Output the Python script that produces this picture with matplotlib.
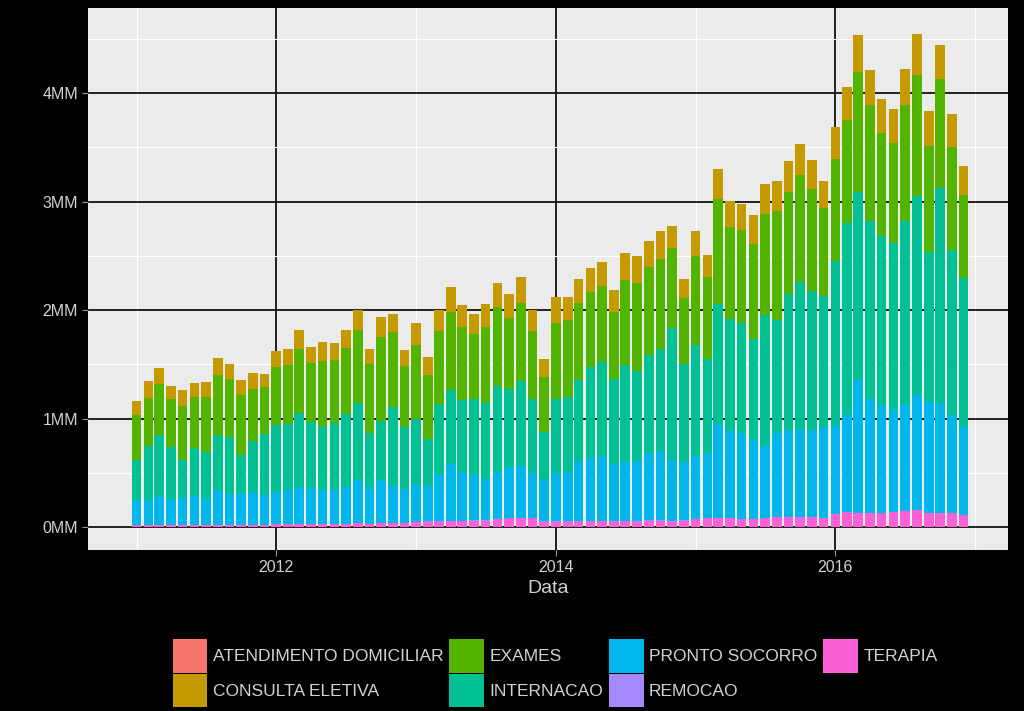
import numpy as np
import pandas as pd
import matplotlib
matplotlib.use("Agg")
import matplotlib.pyplot as plt
import matplotlib.dates as mdates
from matplotlib.ticker import FuncFormatter, MultipleLocator

plt.rcParams['font.family'] = ['Liberation Sans', 'DejaVu Sans']

# monthly totals, in millions
meses = pd.date_range("2011-01-01", "2016-12-01", freq="MS")

terapia = [.015, .015, .02, .02, .015, .02, .015, .02, .02, .02, .02, .02,
           .025, .025, .025, .03, .03, .03, .03, .04, .03, .04, .04, .04,
           .045, .05, .05, .055, .055, .06, .06, .07, .08, .08, .08, .05,
           .05, .05, .05, .05, .055, .05, .055, .05, .06, .06, .05, .06,
           .07, .08, .08, .08, .075, .07, .08, .09, .09, .09, .09, .08,
           .12, .14, .13, .13, .13, .14, .15, .155, .13, .13, .13, .11]

remocao = [.001, .001, .001, .001, .001, .001, .001, .001, .001, .001, .001, .001,
           .001, .001, .001, .001, .001, .001, .001, .001, .001, .001, .001, .001,
           .001, .001, .001, .001, .001, .001, .001, .001, .001, .001, .001, .001,
           .001, .001, .001, .001, .001, .001, .001, .001, .001, .001, .001, .001,
           .0015, .0015, .0015, .0015, .0015, .0015, .0015, .0015, .0015, .0015, .0015, .0015,
           .0015, .0015, .0015, .0015, .0015, .0015, .0015, .0015, .0015, .0015, .0015, .0015]

pronto_socorro = [.222, .232, .266, .24, .255, .266, .238, .316, .283, .28, .306, .27,
                  .294, .311, .34, .329, .306, .306, .339, .388, .339, .388, .339, .312,
                  .35, .329, .434, .528, .455, .424, .381, .44, .47, .486, .42, .385,
                  .444, .46, .556, .582, .603, .526, .544, .559, .621, .638, .566, .539,
                  .585, .601, .865, .815, .787, .727, .661, .779, .805, .815, .805, .838,
                  .808, .894, 1.22, 1.045, .989, .946, .983, 1.06, 1.022, 1.012, .897, .808]

internacao = [.379, .497, .560, .474, .346, .438, .435, .510, .523, .362, .464, .563,
              .616, .609, .681, .612, .586, .619, .675, .714, .494, .550, .724, .570,
              .599, .428, .649, .681, .658, .691, .701, .793, .724, .780, .675, .444,
              .681, .688, .751, .840, .863, .787, .889, .830, .905, .938, 1.218, .905,
              1.024, .866, 1.113, 1.020, 1.014, .938, 1.208, 1.040, 1.251, 1.350, 1.277, 1.212,
              1.524, 1.765, 1.735, 1.643, 1.564, 1.528, 1.686, 1.837, 1.383, 1.985, 1.521, 1.376]

exames = [.411, .441, .467, .441, .494, .477, .510, .550, .537, .550, .484, .435,
          .540, .546, .593, .540, .609, .583, .609, .675, .642, .774, .691, .560,
          .685, .589, .668, .721, .675, .606, .701, .728, .652, .718, .629, .507,
          .708, .708, .708, .691, .698, .619, .790, .807, .807, .833, .734, .602,
          .813, .754, .961, .849, .856, .876, .938, 1.001, .938, .984, .945, .807,
          .938, .955, 1.103, 1.073, .951, .925, 1.073, 1.113, .971, 1.004, .955, .764]

consulta_eletiva = [.132, .155, .148, .128, .151, .125, .135, .158, .138, .142, .145, .122,
                    .148, .145, .178, .148, .174, .155, .165, .184, .132, .181, .165, .148,
                    .201, .171, .201, .230, .201, .178, .207, .217, .217, .240, .191, .158,
                    .237, .214, .221, .221, .224, .198, .247, .247, .240, .257, .207, .178,
                    .234, .207, .277, .237, .247, .260, .277, .280, .286, .290, .263, .253,
                    .293, .296, .346, .319, .306, .313, .329, .375, .326, .309, .306, .267]

# home care is tiny next to the rest (a few hundred per month)
atendimento_domiciliar = [.0002, .0002, .0002, .0002, .0002, .0002, .0002, .0002, .0002, .0002, .0002, .0002,
                          .0002, .0002, .0002, .0002, .0002, .0002, .0002, .0002, .0002, .0002, .0002, .0002,
                          .0003, .0003, .0003, .0003, .0003, .0003, .0003, .0003, .0003, .0003, .0003, .0003,
                          .0003, .0003, .0003, .0003, .0003, .0003, .0003, .0003, .0003, .0003, .0003, .0003,
                          .0004, .0004, .0004, .0004, .0004, .0004, .0004, .0004, .0004, .0004, .0004, .0004,
                          .0004, .0004, .0004, .0004, .0004, .0004, .0004, .0004, .0004, .0004, .0004, .0004]

categorias = ["ATENDIMENTO DOMICILIAR", "CONSULTA ELETIVA", "EXAMES", "INTERNACAO",
              "PRONTO SOCORRO", "REMOCAO", "TERAPIA"]
cores = ["#F8766D", "#C49A00", "#53B400", "#00C094", "#00B6EB", "#A58AFF", "#FB61D7"]

series = {
    "ATENDIMENTO DOMICILIAR": atendimento_domiciliar,
    "CONSULTA ELETIVA": consulta_eletiva,
    "EXAMES": exames,
    "INTERNACAO": internacao,
    "PRONTO SOCORRO": pronto_socorro,
    "REMOCAO": remocao,
    "TERAPIA": terapia,
}

texto = "#D2D2D2"

fig = plt.figure(figsize=(10.24, 7.11), dpi=100, facecolor="black")
ax = fig.add_axes([0.0859, 0.2264, 0.8984, 0.7623])
ax.set_facecolor("#EBEBEB")

# ggplot stacks the first level on top, so draw from the last one up
base = np.zeros(len(meses))
handles = {}
for nome, cor in list(zip(categorias, cores))[::-1]:
    vals = np.array(series[nome])
    b = ax.bar(meses, vals, bottom=base, width=25.2, color=cor, linewidth=0, zorder=3)
    handles[nome] = b
    base = base + vals

ax.set_ylim(-0.212, 4.783)
ax.set_xlim(pd.Timestamp("2010-08-27"), pd.Timestamp("2017-03-27"))

ax.yaxis.set_major_locator(MultipleLocator(1))
ax.yaxis.set_minor_locator(MultipleLocator(0.5))
ax.yaxis.set_major_formatter(FuncFormatter(lambda v, p: f"{int(round(v))}MM"))
ax.xaxis.set_major_locator(mdates.YearLocator(2))
ax.xaxis.set_minor_locator(mdates.YearLocator(1))
ax.xaxis.set_major_formatter(mdates.DateFormatter("%Y"))

ax.grid(which="major", color="#111111", linewidth=1.3, zorder=1)
ax.grid(which="minor", color="white", linewidth=0.8, zorder=1)
ax.set_axisbelow(True)
for s in ax.spines.values():
    s.set_visible(False)

ax.tick_params(which="major", length=4, color="#9A9A9A", labelcolor=texto, labelsize=11.5, pad=3)
ax.tick_params(which="minor", length=0)
ax.set_xlabel("Data", color=texto, fontsize=14, labelpad=4)

fig.legend([handles[c] for c in categorias], categorias, loc="center",
           bbox_to_anchor=(0.542, 0.053), ncol=4, frameon=False,
           fontsize=12.5, labelcolor=texto, handlelength=2.0, handleheight=2.6,
           handletextpad=0.3, columnspacing=0.35, labelspacing=0.05, borderpad=0)

fig.savefig("out.png", dpi=100, facecolor="black")
